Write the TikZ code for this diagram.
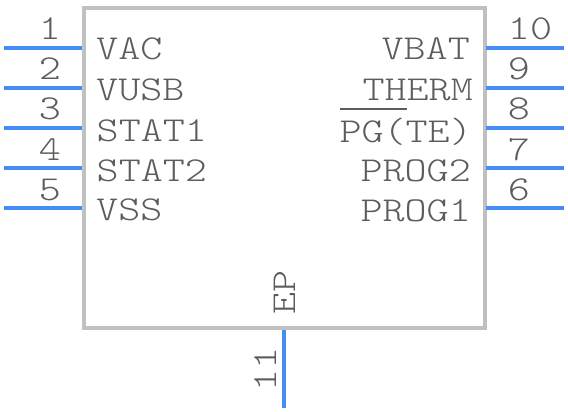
\documentclass[tikz,border=0pt]{standalone}
\usepackage{fontspec}
\newfontfamily\pinfont[FakeStretch=1.2]{Latin Modern Mono Light}
\definecolor{pinblue}{RGB}{70,140,245}
\definecolor{bodygray}{RGB}{192,192,192}
\definecolor{textgray}{RGB}{92,92,92}
\tikzset{
  lbl/.style={inner sep=0pt, text=textgray, font=\pinfont\fontsize{35}{35}\selectfont},
  pin/.style={draw=pinblue, line width=3.8pt},
}

\begin{document}
\begin{tikzpicture}[x=1pt, y=-1pt]
\useasboundingbox (0,0) rectangle (568,412);

\node[draw=bodygray, line width=4pt, rectangle, minimum width=400.5pt, minimum height=319.5pt, inner sep=0pt, outer sep=0pt, anchor=north west] at (84,8.5) (body) {};

\coordinate (p1) at (4,48);
\coordinate (p2) at (4,88);
\coordinate (p3) at (4,128);
\coordinate (p4) at (4,168);
\coordinate (p5) at (4,208);
\coordinate (p6) at (564,208);
\coordinate (p7) at (564,168);
\coordinate (p8) at (564,128);
\coordinate (p9) at (564,88);
\coordinate (p10) at (564,48);
\coordinate (p11) at (284,408);
\coordinate (e1) at (82,48);
\coordinate (e2) at (82,88);
\coordinate (e3) at (82,128);
\coordinate (e4) at (82,168);
\coordinate (e5) at (82,208);
\coordinate (e6) at (486,208);
\coordinate (e7) at (486,168);
\coordinate (e8) at (486,128);
\coordinate (e9) at (486,88);
\coordinate (e10) at (486,48);
\coordinate (e11) at (284,330);

\path[pin] (p1) edge (e1);
\path[pin] (p2) edge (e2);
\path[pin] (p3) edge (e3);
\path[pin] (p4) edge (e4);
\path[pin] (p5) edge (e5);
\path[pin] (p6) edge (e6);
\path[pin] (p7) edge (e7);
\path[pin] (p8) edge (e8);
\path[pin] (p9) edge (e9);
\path[pin] (p10) edge (e10);
\path[pin] (p11) edge (e11);

\node[lbl, anchor=base] at (50,40) (n1) {1};
\node[lbl, anchor=base] at (50,80) (n2) {2};
\node[lbl, anchor=base] at (50,120) (n3) {3};
\node[lbl, anchor=base] at (50,160) (n4) {4};
\node[lbl, anchor=base] at (50,200) (n5) {5};
\node[lbl, anchor=base] at (519,200) (n6) {6};
\node[lbl, anchor=base] at (519,160) (n7) {7};
\node[lbl, anchor=base] at (519,120) (n8) {8};
\node[lbl, anchor=base] at (519,80) (n9) {9};
\node[lbl, anchor=base] at (530,40) (n10) {10};
\node[lbl, anchor=base west, rotate=90] at (276,392) (n11) {11};

\node[lbl, anchor=base west] at (96,60) (vac) {VAC};
\node[lbl, anchor=base west] at (96,100) (vusb) {VUSB};
\node[lbl, anchor=base west] at (96.5,141.5) (stat1) {STAT1};
\node[lbl, anchor=base west] at (96.5,181) (stat2) {STAT2};
\node[lbl, anchor=base west] at (96,220) (vss) {VSS};

\node[lbl, anchor=base east] at (470,60) (vbat) {VBAT};
\node[lbl, anchor=base east] at (473,100) (therm) {THERM};
\node[lbl, anchor=base east] at (472,142) (pgte) {PG(TE)};
\node[lbl, anchor=base east] at (471,181) (prog2) {PROG2};
\node[lbl, anchor=base east] at (471,221) (prog1) {PROG1};

\coordinate (barl) at (340,109);
\coordinate (barr) at (407,109);
\path[draw=textgray, line width=1.6pt] (barl) edge (barr);

\node[lbl, anchor=base west, rotate=90] at (295,315) (ep) {EP};

\end{tikzpicture}
\end{document}
